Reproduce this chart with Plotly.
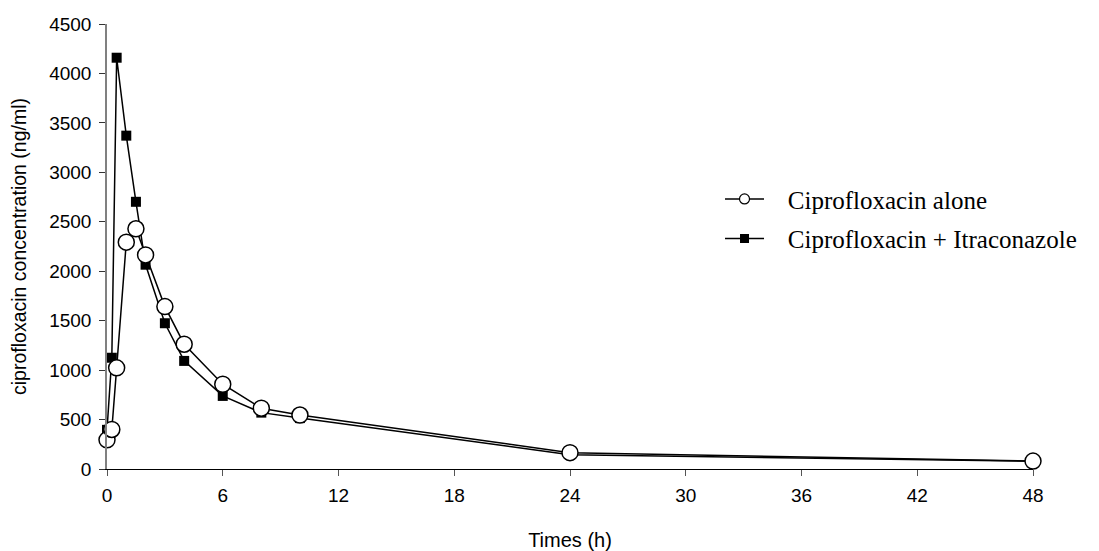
import plotly.graph_objects as go

times = [0, 0.25, 0.5, 1, 1.5, 2, 3, 4, 6, 8, 10, 24, 48]
cipro_alone = [295, 400, 1023, 2294, 2429, 2165, 1642, 1262, 857, 615, 546, 165, 80]
cipro_itra = [396, 1125, 4159, 3371, 2702, 2066, 1474, 1093, 739, 570, 515, 145, 78]
x_ticks = [0, 6, 12, 18, 24, 30, 36, 42, 48]
y_ticks = [0, 500, 1000, 1500, 2000, 2500, 3000, 3500, 4000, 4500]
name_alone = "Ciprofloxacin alone"
name_itra = "Ciprofloxacin + Itraconazole"

fig = go.Figure()
fig.add_trace(go.Scatter(
    x=times, y=cipro_itra, mode="lines+markers", showlegend=False,
    line=dict(color="black", width=1.5),
    marker=dict(symbol="square", size=10, color="black"),
    cliponaxis=False))
fig.add_trace(go.Scatter(
    x=times, y=cipro_alone, mode="lines+markers", showlegend=False,
    line=dict(color="black", width=1.5),
    marker=dict(symbol="circle", size=16, color="white",
                line=dict(color="black", width=1.5)),
    cliponaxis=False))
# legend entries
pad = "\u00a0\u00a0\u00a0"
fig.add_trace(go.Scatter(
    x=[None], y=[None], mode="lines+markers", name=pad + name_alone, legendgroup="a",
    line=dict(color="black", width=1.5),
    marker=dict(symbol="circle", size=10, color="white",
                line=dict(color="black", width=1.2))))
fig.add_trace(go.Scatter(
    x=[None], y=[None], mode="lines+markers", name=pad + name_itra, legendgroup="b",
    line=dict(color="black", width=1.5),
    marker=dict(symbol="square", size=9, color="black")))

fig.update_layout(
    width=1091, height=543,
    margin=dict(l=99, r=66, t=16, b=82),
    paper_bgcolor="white", plot_bgcolor="white",
    font=dict(family="Liberation Sans, Arial, sans-serif", color="black", size=19),
    legend=dict(x=0.662, y=0.658, xanchor="left", yanchor="top",
                font=dict(family="Liberation Serif, Times New Roman, serif", size=25),
                tracegroupgap=4, itemwidth=39, bgcolor="rgba(0,0,0,0)"),
    xaxis=dict(range=[0, 48], tickvals=x_ticks, ticktext=[str(v) for v in x_ticks],
               showgrid=False, zeroline=False, showline=True, linecolor="black",
               linewidth=1, ticks="outside", ticklen=6, tickcolor="#555",
               ticklabelstandoff=3, automargin=False,
               title=dict(text="Times (h)", font=dict(size=20), standoff=29)),
    yaxis=dict(range=[0, 4500], tickvals=y_ticks, ticktext=[str(v) for v in y_ticks],
               showgrid=False, zeroline=False, showline=True, linecolor="#808080",
               linewidth=1.5, ticks="outside", ticklen=6, tickcolor="#333",
               ticklabelstandoff=4, automargin=False,
               title=dict(text="ciprofloxacin concentration (ng/ml)", font=dict(size=19.5),
                          standoff=19)),
)
fig.write_html("out.html")
